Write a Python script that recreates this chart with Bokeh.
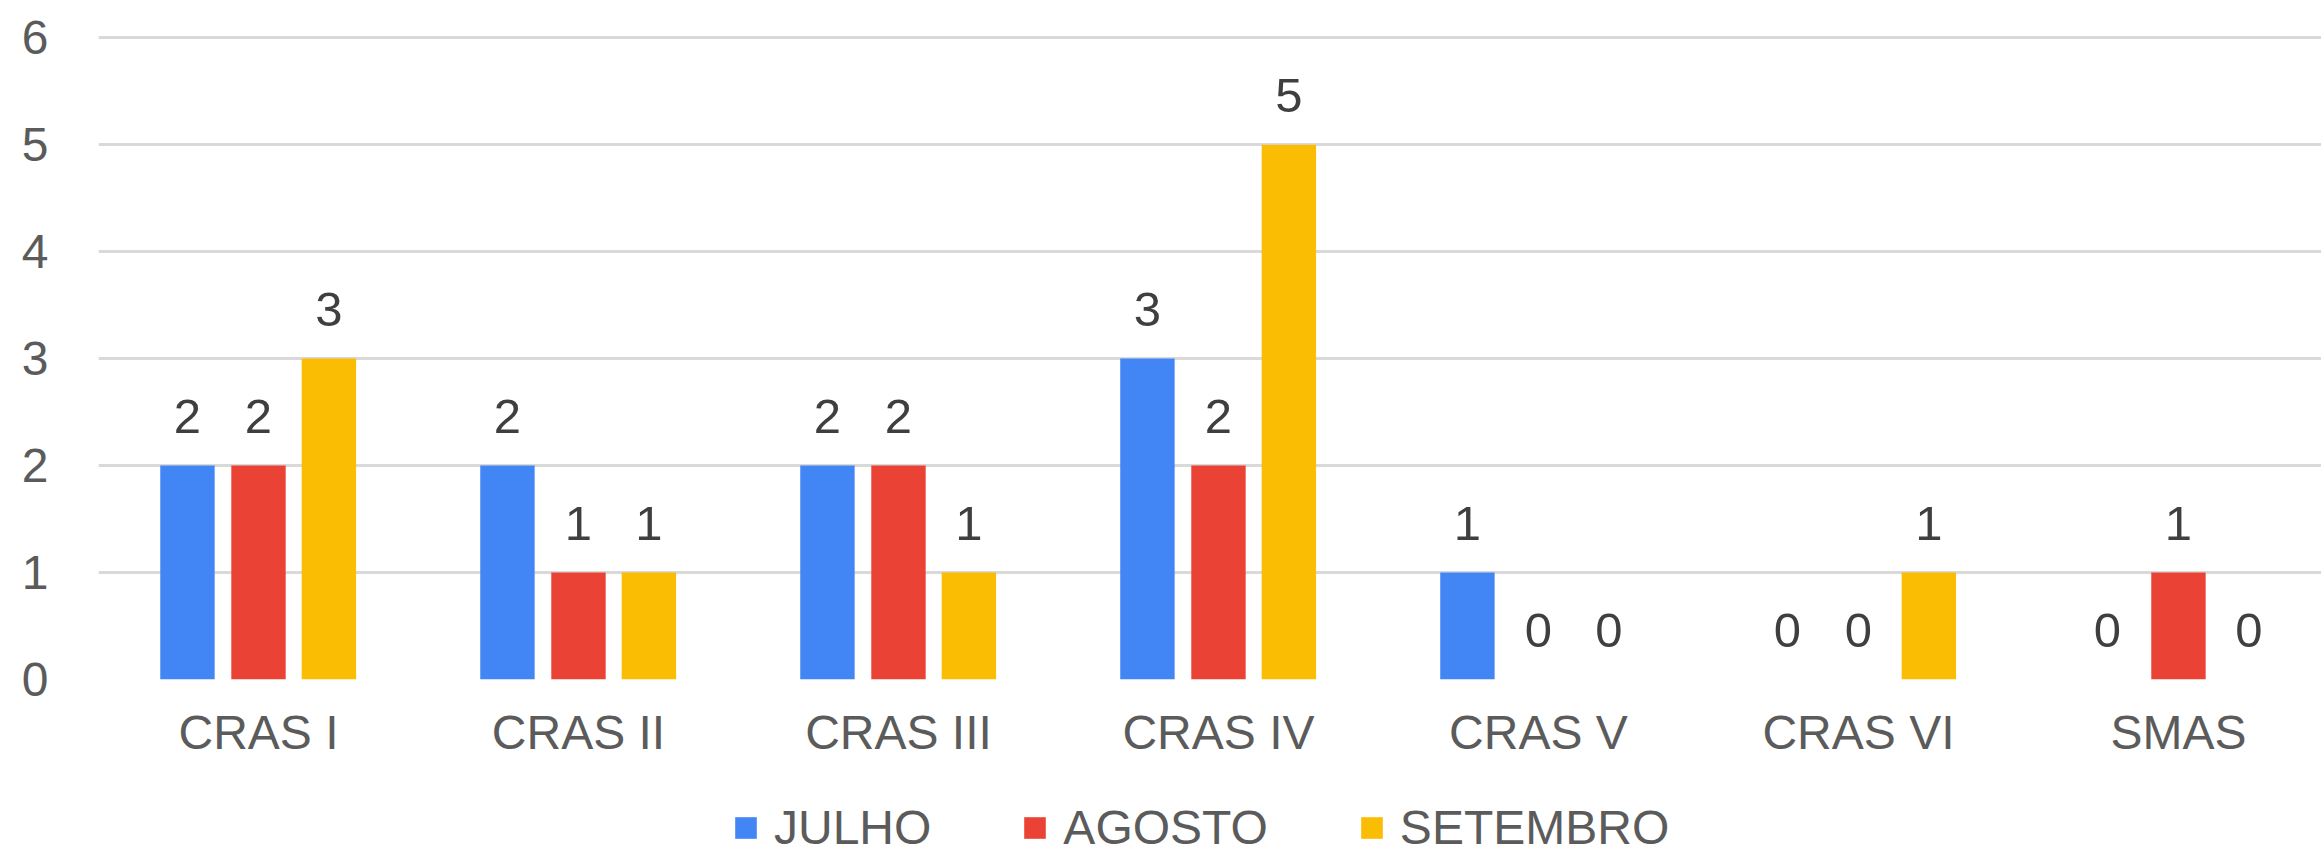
from bokeh.plotting import figure
from bokeh.layouts import column
from bokeh.models import ColumnDataSource, Range1d, FixedTicker, LabelSet, Legend, LegendItem
from bokeh.transform import dodge
from bokeh.core.properties import value
from bokeh.embed import file_html
from bokeh.resources import INLINE

categories = ["CRAS I", "CRAS II", "CRAS III", "CRAS IV", "CRAS V", "CRAS VI", "SMAS"]
julho = [2, 2, 2, 3, 1, 0, 0]
agosto = [2, 1, 2, 2, 0, 0, 1]
setembro = [3, 1, 1, 5, 0, 1, 0]
series_names = ["JULHO", "AGOSTO", "SETEMBRO"]
colors = ["#4285F4", "#EA4335", "#FBBC04"]
y_ticks = [0, 1, 2, 3, 4, 5, 6]

idx = list(range(len(categories)))
src = ColumnDataSource(dict(
    x=idx, julho=julho, agosto=agosto, setembro=setembro,
    julho_t=[str(v) for v in julho],
    agosto_t=[str(v) for v in agosto],
    setembro_t=[str(v) for v in setembro],
))

FONT = "Liberation Sans"
AXIS_COLOR = "#5b5b5b"
LABEL_COLOR = "#3f3f3f"

p = figure(frame_width=2223, frame_height=645, output_backend="svg", toolbar_location=None,
           x_range=Range1d(-0.5, 6.447), y_range=Range1d(0, 6.03),
           min_border_left=98, min_border_right=0, min_border_top=34, min_border_bottom=100)
p.outline_line_color = None
p.background_fill_color = "white"
p.border_fill_color = "white"

p.xgrid.visible = False
p.ygrid.grid_line_color = "#d9d9d9"
p.ygrid.grid_line_width = 3
p.yaxis.ticker = FixedTicker(ticks=y_ticks)
p.xaxis.ticker = FixedTicker(ticks=idx)
p.xaxis.major_label_overrides = {i: c for i, c in enumerate(categories)}

for ax in (p.xaxis[0], p.yaxis[0]):
    ax.axis_line_color = None
    ax.major_tick_line_color = None
    ax.minor_tick_line_color = None
    ax.major_tick_out = 0
    ax.major_tick_in = 0
    ax.major_label_text_font = FONT
    ax.major_label_text_font_size = "48px"
    ax.major_label_text_color = AXIS_COLOR
p.yaxis.major_label_standoff = 50
p.xaxis.major_label_standoff = 26

offsets = [-0.222, 0.0, 0.22]
fields = ["julho", "agosto", "setembro"]
for f, off, col in zip(fields, offsets, colors):
    p.vbar(x=dodge("x", off, range=p.x_range), top=f, width=0.17, bottom=0,
           source=src, fill_color=col, line_color=None)
    lbl = LabelSet(x=dodge("x", off, range=p.x_range), y=f, text=f + "_t", source=src,
                   text_align="center", text_baseline="alphabetic", y_offset=33,
                   text_font=value(FONT), text_font_size=value("49px"), text_color=LABEL_COLOR)
    p.add_layout(lbl)

# legend strip below the chart
p2 = figure(width=2321, height=76, output_backend="svg", toolbar_location=None,
            x_range=Range1d(100, 101), y_range=Range1d(100, 101),
            x_axis_location=None, y_axis_location=None,
            min_border_left=0, min_border_right=0, min_border_top=0, min_border_bottom=0)
p2.outline_line_color = None
p2.grid.visible = False
leg_renderers = []
for f, col in zip(fields, colors):
    r = p2.vbar(x="x", top=f, width=0.17, bottom=0, source=src, fill_color=col, line_color=None)
    leg_renderers.append(r)

legend = Legend(items=[LegendItem(label=n, renderers=[r]) for n, r in zip(series_names, leg_renderers)],
                orientation="horizontal", location=(634, 0),
                spacing=90, label_standoff=15, glyph_width=27, glyph_height=27,
                label_text_font=FONT, label_text_font_size="48px", label_text_color=AXIS_COLOR,
                border_line_color=None, background_fill_alpha=0, margin=0, padding=0)
p2.add_layout(legend, "center")

layout = column(p, p2, spacing=0)
open("out.html", "w").write(file_html(layout, INLINE))
